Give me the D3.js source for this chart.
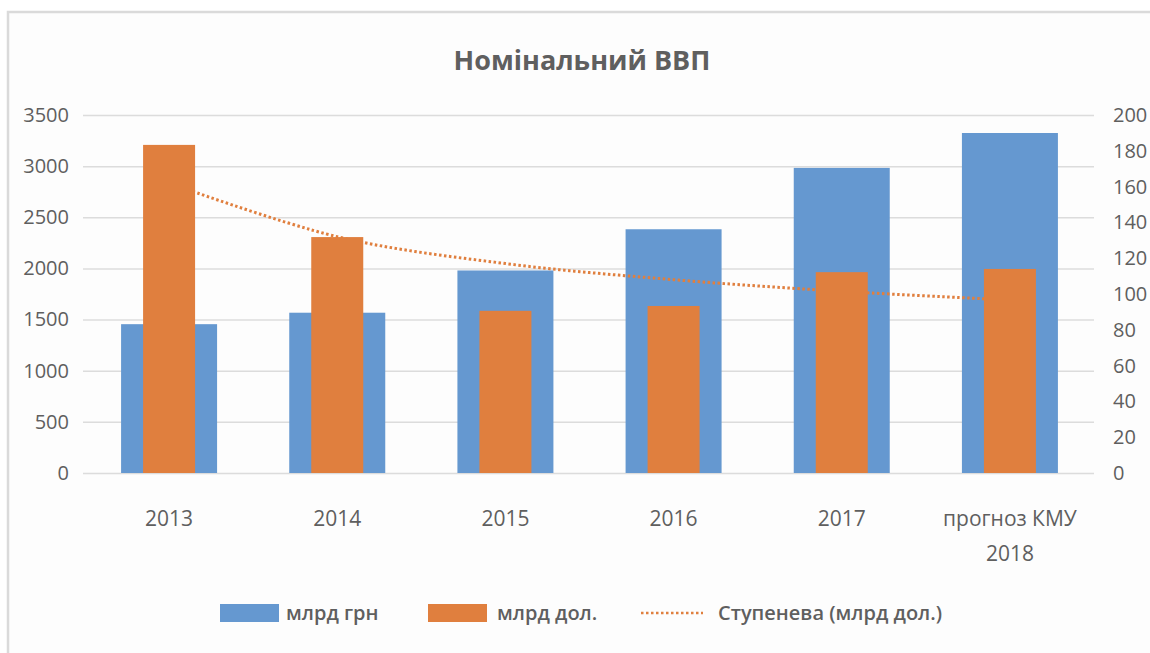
<!DOCTYPE html>
<html>
<head>
<meta charset="utf-8">
<script src="https://cdn.jsdelivr.net/npm/d3@7"></script>
<style>
  html, body { margin: 0; padding: 0; background: #fff; }
  text { font-family: 'Open Sans', 'Noto Sans', sans-serif; }
</style>
</head>
<body>
<div id="chart"></div>
<script>
// Nominal GDP data
const years = ['2013', '2014', '2015', '2016', '2017', 'прогноз КМУ 2018'];
const uahBn = [1455, 1567, 1980, 2383, 2983, 3324];     // млрд грн (left axis)
const usdBn = [183.3, 131.8, 90.6, 93.3, 112.2, 114.0]; // млрд дол. (right axis)
const powerTrend = [162, 132, 117, 108, 101.5, 96.6];   // Ступенева (млрд дол.)
const leftTicks = [0, 500, 1000, 1500, 2000, 2500, 3000, 3500];
const rightTicks = [0, 20, 40, 60, 80, 100, 120, 140, 160, 180, 200];

const width = 1150, height = 653;
const margin = { top: 115, right: 56, bottom: 180, left: 85 };
const blue = '#6598d0', orange = '#e07f3e', textCol = '#5f5f5f', grid = '#dcdcdc';

const svg = d3.select('#chart').append('svg')
  .attr('width', width)
  .attr('height', height);

// outer frame
svg.append('rect')
  .attr('x', 8).attr('y', 12)
  .attr('width', 1300).attr('height', 800)
  .attr('fill', '#fdfdfd')
  .attr('stroke', '#dadada')
  .attr('stroke-width', 2.5);

svg.append('text')
  .attr('x', 582).attr('y', 70)
  .attr('text-anchor', 'middle')
  .attr('font-size', 27)
  .attr('font-weight', 700)
  .attr('fill', textCol)
  .text('Номінальний ВВП');

const x = d3.scaleBand()
  .domain(years)
  .range([margin.left, width - margin.right]);

const yL = d3.scaleLinear().domain([0, 3500]).range([height - margin.bottom, margin.top]);
const yR = d3.scaleLinear().domain([0, 200]).range([height - margin.bottom, margin.top]);

// gridlines
svg.append('g')
  .attr('transform', `translate(${margin.left - 2},0)`)
  .call(d3.axisLeft(yL).tickValues(leftTicks).tickSize(-(width - margin.left - margin.right + 2)).tickFormat(''))
  .call(g => g.select('.domain').remove())
  .selectAll('line').attr('stroke', grid).attr('stroke-width', 1.5);

// left axis labels
svg.append('g')
  .attr('transform', `translate(${margin.left - 16},0)`)
  .call(d3.axisLeft(yL).tickValues(leftTicks).tickSize(0).tickPadding(0).tickFormat(d3.format('d')))
  .call(g => g.select('.domain').remove())
  .selectAll('text')
  .attr('font-size', 20)
  .attr('fill', textCol)
  .attr('font-family', "'Open Sans', sans-serif");

// right axis labels
svg.append('g')
  .attr('transform', `translate(${width - margin.right + 19},0)`)
  .call(d3.axisRight(yR).tickValues(rightTicks).tickSize(0).tickPadding(0))
  .call(g => g.select('.domain').remove())
  .selectAll('text')
  .attr('font-size', 20)
  .attr('fill', textCol)
  .attr('font-family', "'Open Sans', sans-serif");

const bw = 96, ow = 52;

// blue bars (млрд грн)
svg.append('g')
  .selectAll('rect')
  .data(years)
  .join('rect')
  .attr('x', (d) => x(d) + x.bandwidth() / 2 - bw / 2)
  .attr('width', bw)
  .attr('y', (d, i) => yL(uahBn[i]))
  .attr('height', (d, i) => yL(0) - yL(uahBn[i]))
  .attr('fill', blue);

// power trendline
const line = d3.line()
  .x((d, i) => x(years[i]) + x.bandwidth() / 2)
  .y(d => yR(d))
  .curve(d3.curveCatmullRom);

svg.append('path')
  .datum(powerTrend)
  .attr('d', line)
  .attr('fill', 'none')
  .attr('stroke', orange)
  .attr('stroke-width', 3)
  .attr('stroke-dasharray', '2.5 2.5');

// orange bars (млрд дол.)
svg.append('g')
  .selectAll('rect')
  .data(years)
  .join('rect')
  .attr('x', (d) => x(d) + x.bandwidth() / 2 - ow / 2)
  .attr('width', ow)
  .attr('y', (d, i) => yR(usdBn[i]))
  .attr('height', (d, i) => yR(0) - yR(usdBn[i]))
  .attr('fill', orange);

// category labels
const xl = svg.append('g');
years.forEach(d => {
  const cx = x(d) + x.bandwidth() / 2;
  const lines = d === 'прогноз КМУ 2018' ? ['прогноз КМУ', '2018'] : [d];
  lines.forEach((t, j) => {
    xl.append('text')
      .attr('x', cx)
      .attr('y', 526 + j * 35)
      .attr('text-anchor', 'middle')
      .attr('font-size', 21)
      .attr('fill', textCol)
      .text(t);
  });
});

// legend
const legend = svg.append('g').attr('font-size', 20).attr('font-weight', 600).attr('fill', textCol);
legend.append('rect').attr('x', 220).attr('y', 604).attr('width', 59).attr('height', 18).attr('fill', blue);
legend.append('text').attr('x', 286).attr('y', 620).text('млрд грн');
legend.append('rect').attr('x', 428).attr('y', 604).attr('width', 59).attr('height', 18).attr('fill', orange);
legend.append('text').attr('x', 497).attr('y', 620).text('млрд дол.');
legend.append('line')
  .attr('x1', 641).attr('x2', 703).attr('y1', 613).attr('y2', 613)
  .attr('stroke', orange).attr('stroke-width', 2.5).attr('stroke-dasharray', '2.5 2.5');
legend.append('text').attr('x', 718).attr('y', 620).text('Ступенева (млрд дол.)');
</script>
</body>
</html>
